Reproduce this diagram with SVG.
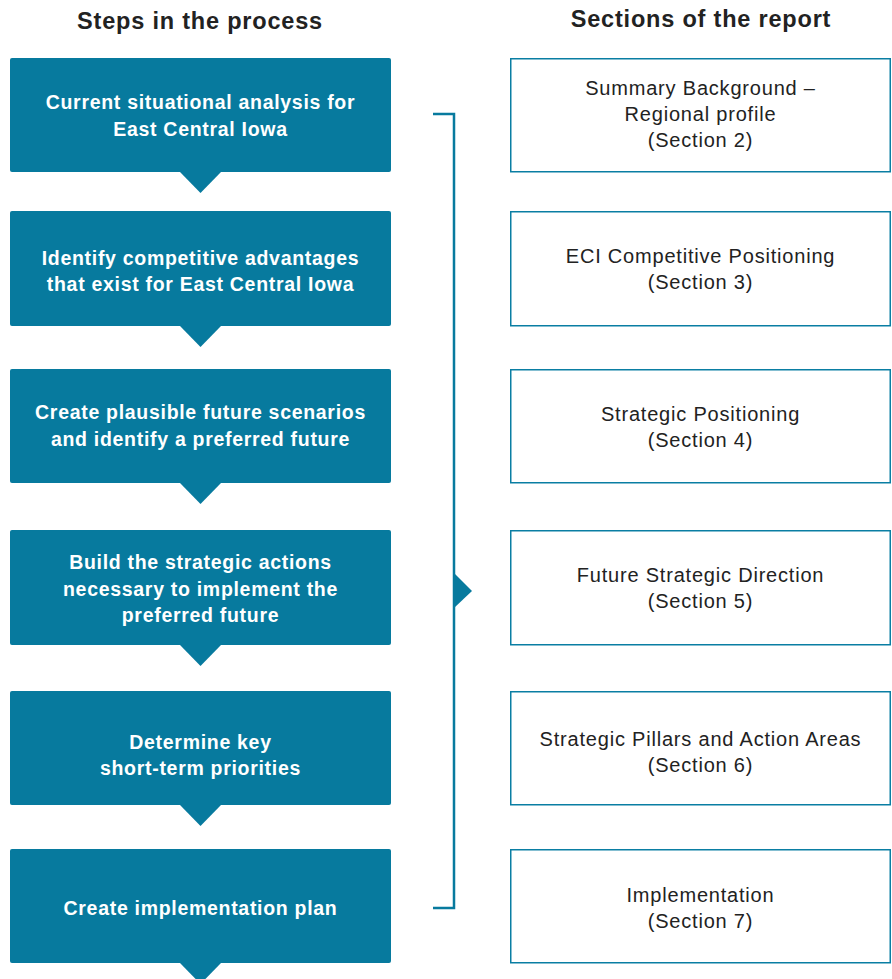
<svg xmlns="http://www.w3.org/2000/svg" width="892" height="979" viewBox="0 0 892 979">
<style>
.step{fill:#077a9e;}
.st{font-family:"Liberation Sans",Arial,sans-serif;font-weight:bold;font-size:19.5px;fill:#ffffff;text-anchor:middle;letter-spacing:0.7px;}
.sec{fill:#ffffff;stroke:#0a7ea3;stroke-width:1.5;}
.sx{font-family:"Liberation Sans",Arial,sans-serif;font-size:20px;fill:#222222;text-anchor:middle;letter-spacing:0.8px;}
.hd{font-family:"Liberation Sans",Arial,sans-serif;font-weight:bold;font-size:23.5px;fill:#222222;text-anchor:middle;letter-spacing:0.8px;}
.br{fill:none;stroke:#077a9e;stroke-width:2.5;}
</style>
<rect width="892" height="979" fill="#ffffff"/>
<text class="hd" x="200" y="29">Steps in the process</text>
<text class="hd" x="701" y="27">Sections of the report</text>

<g id="step1"><rect class="step" x="10" y="58" width="381" height="114" rx="2"/><polygon class="step" points="180,172 221,172 200.5,193"/>
<text class="st" x="200.5" y="109">Current situational analysis for</text><text class="st" x="200.5" y="136">East Central Iowa</text></g>
<g id="step2"><rect class="step" x="10" y="211" width="381" height="115" rx="2"/><polygon class="step" points="180,326 221,326 200.5,347"/>
<text class="st" x="200.5" y="265">Identify competitive advantages</text><text class="st" x="200.5" y="291">that exist for East Central Iowa</text></g>
<g id="step3"><rect class="step" x="10" y="369" width="381" height="114" rx="2"/><polygon class="step" points="180,483 221,483 200.5,504"/>
<text class="st" x="200.5" y="419">Create plausible future scenarios</text><text class="st" x="200.5" y="446">and identify a preferred future</text></g>
<g id="step4"><rect class="step" x="10" y="530" width="381" height="115" rx="2"/><polygon class="step" points="180,645 221,645 200.5,666"/>
<text class="st" x="200.5" y="569">Build the strategic actions</text><text class="st" x="200.5" y="596">necessary to implement the</text><text class="st" x="200.5" y="622">preferred future</text></g>
<g id="step5"><rect class="step" x="10" y="691" width="381" height="114" rx="2"/><polygon class="step" points="180,805 221,805 200.5,826"/>
<text class="st" x="200.5" y="749">Determine key</text><text class="st" x="200.5" y="775">short-term priorities</text></g>
<g id="step6"><rect class="step" x="10" y="849" width="381" height="114" rx="2"/><polygon class="step" points="180,963 221,963 200.5,984"/>
<text class="st" x="200.5" y="915">Create implementation plan</text></g>

<g id="connectors">
<path class="br" d="M433,114 H454 V908 H433"/>
<polygon fill="#077a9e" points="454,573 472,591 454,608"/>
</g>

<g id="sec2"><rect class="sec" x="510.75" y="58.75" width="379.5" height="113"/>
<text class="sx" x="700.5" y="95">Summary Background –</text><text class="sx" x="700.5" y="121">Regional profile</text><text class="sx" x="700.5" y="147">(Section 2)</text></g>
<g id="sec3"><rect class="sec" x="510.75" y="211.75" width="379.5" height="114"/>
<text class="sx" x="700.5" y="263">ECI Competitive Positioning</text><text class="sx" x="700.5" y="289">(Section 3)</text></g>
<g id="sec4"><rect class="sec" x="510.75" y="369.75" width="379.5" height="113"/>
<text class="sx" x="700.5" y="421">Strategic Positioning</text><text class="sx" x="700.5" y="447">(Section 4)</text></g>
<g id="sec5"><rect class="sec" x="510.75" y="530.75" width="379.5" height="114"/>
<text class="sx" x="700.5" y="582">Future Strategic Direction</text><text class="sx" x="700.5" y="608">(Section 5)</text></g>
<g id="sec6"><rect class="sec" x="510.75" y="691.75" width="379.5" height="113"/>
<text class="sx" x="700.5" y="746">Strategic Pillars and Action Areas</text><text class="sx" x="700.5" y="772">(Section 6)</text></g>
<g id="sec7"><rect class="sec" x="510.75" y="849.75" width="379.5" height="113"/>
<text class="sx" x="700.5" y="902">Implementation</text><text class="sx" x="700.5" y="928">(Section 7)</text></g>
</svg>
